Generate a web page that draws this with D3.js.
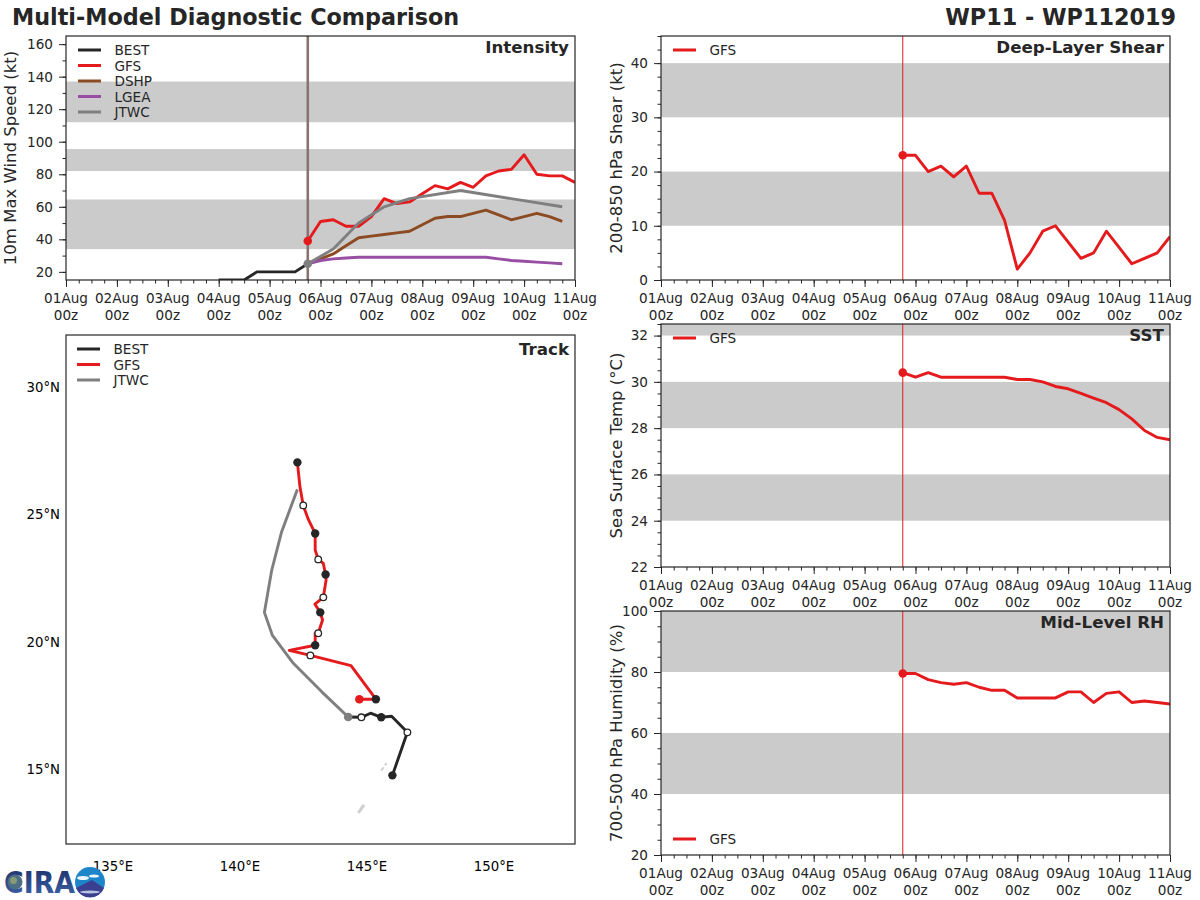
<!DOCTYPE html>
<html>
<head>
<meta charset="utf-8">
<script src="https://cdn.jsdelivr.net/npm/d3@7"></script>
<style>
  body { margin: 0; background: #fff; }
  text { font-family: "DejaVu Sans", sans-serif; fill: #262626; }
</style>
</head>
<body>
<svg id="chart" width="1200" height="900"></svg>
<script>
// values, time is in days after 01Aug 00z
var dayLabels = ["01Aug","02Aug","03Aug","04Aug","05Aug","06Aug","07Aug","08Aug","09Aug","10Aug","11Aug"];
var initDay = 4.75;

var bestDays = [3,3.25,3.5,3.75,4,4.25,4.5,4.75];
var bestWind = [15,15,15,20,20,20,20,25];

var modelDays = [4.75,5,5.25,5.5,5.75,6,6.25,6.5,6.75,7,7.25,7.5,7.75,8,8.25,8.5,8.75,9,9.25,9.5,9.75,10];
var gfsWind = [39,51,52,48,48,54,65,62,63,68,73,71,75,72,79,82,83,92,80,79,79,75];
var dshpWind = [25,28,31,36,41,42,43,44,45,49,53,54,54,56,58,55,52,54,56,54,51];
var lgeaWind = [25,27,28,28.5,29,29,29,29,29,29,29,29,29,29,29,28,27,26.5,26,25.5,25];
var jtwcDays = [4.75,5.25,5.75,6.25,6.75,7.75,9.75];
var jtwcWind = [25,34,50,60,65,70,60];

var gfsShear = [23,23,20,21,19,21,16,16,11,2,5,9,10,7,4,5,9,6,3,4,5,8];
var gfsSst = [30.4,30.2,30.4,30.2,30.2,30.2,30.2,30.2,30.2,30.1,30.1,30,29.8,29.7,29.5,29.3,29.1,28.8,28.4,27.9,27.6,27.5];
var gfsRh = [79.5,79.5,77.5,76.5,76,76.5,75,74,74,71.5,71.5,71.5,71.5,73.5,73.5,70,73,73.5,70,70.5,70,69.5];

var bestLon = [146.0,146.59,145.97,145.56,145.14,144.78,144.26];
var bestLat = [14.75,16.44,17.07,17.03,17.19,17.03,17.04];
var bestDots = [0,1,3,5];

var gfsLon = [144.7,145.35,144.37,142.77,141.94,142.96,142.96,143.08,143.25,143.16,142.95,143.28,143.39,143.37,143.28,143.08,142.96,142.96,142.69,142.49,142.36,142.26];
var gfsLat = [17.74,17.74,19.06,19.46,19.66,19.86,20.33,20.33,20.85,21.15,21.47,21.74,22.42,22.64,23.07,23.23,23.6,24.25,24.8,25.35,26.08,27.04];
var gfsDots = [1,3,5,7,9,11,13,15,17,19,21];

var jtwcLon = [144.26,143.22,142.1,141.27,140.96,141.25,141.64,142.26];
var jtwcLat = [17.04,18.03,19.15,20.26,21.15,22.81,24.32,25.98];

var islandLon = [[145.56,145.65],[145.7,145.78],[144.66,144.88]];
var islandLat = [[14.93,15.07],[15.16,15.22],[13.28,13.59]];

var windBands = [[34,64.5],[82,95.5],[112,137]];
var shearBands = [[10,20],[30,40]];
var sstBands = [[24,26],[28,30],[32,34]];
var rhBands = [[40,60],[80,100]];

var lonTicks = [135,140,145,150];
var latTicks = [15,20,25,30];

var colors = { BEST: "#262626", GFS: "#e41a1c", DSHP: "#8c4b22", LGEA: "#984ea3", JTWC: "#7f7f7f" };
var bandColor = "#cbcbcb";
var lineWide = 2.9;

var svg = d3.select("#chart");

svg.append("text").attr("x", 12).attr("y", 25).attr("font-size", 22.3).attr("font-weight", "bold")
  .text("Multi-Model Diagnostic Comparison");
svg.append("text").attr("x", 1176).attr("y", 25).attr("font-size", 22.3).attr("font-weight", "bold")
  .attr("text-anchor", "end").text("WP11 - WP112019");

function drawLegend(g, x, y, step, names) {
  names.forEach(function (name, i) {
    g.append("line").attr("x1", x).attr("x2", x + 23).attr("y1", y + i * step).attr("y2", y + i * step)
      .attr("stroke", colors[name]).attr("stroke-width", 3);
    g.append("text").attr("x", x + 36.5).attr("y", y + i * step + 5).attr("font-size", 13.6).text(name);
  });
}

function drawTimePanel(opt) {
  var x = d3.scaleLinear().domain([0, 10]).range([opt.left, opt.left + 509]);
  var y = d3.scaleLinear().domain(opt.yDomain).range([opt.bottom, opt.top]);
  var clipId = "clip" + opt.id;

  svg.append("clipPath").attr("id", clipId).append("rect")
    .attr("x", opt.left).attr("y", opt.top).attr("width", 509).attr("height", opt.bottom - opt.top);

  var g = svg.append("g");
  var plot = g.append("g").attr("clip-path", "url(#" + clipId + ")");

  opt.bands.forEach(function (b) {
    plot.append("rect").attr("x", opt.left).attr("width", 509)
      .attr("y", y(b[1])).attr("height", y(b[0]) - y(b[1])).attr("fill", bandColor);
  });

  var xAxis = d3.axisBottom(x).tickValues(d3.range(0, 11)).tickSize(7).tickFormat(function () { return ""; });
  var xMinor = d3.axisBottom(x).tickValues(d3.range(0, 10.01, 0.25)).tickSize(3.5).tickFormat(function () { return ""; });
  var yAxis = d3.axisLeft(y).tickValues(opt.yTicks).tickSize(7).tickPadding(6);
  var yMinor = d3.axisLeft(y).tickValues(opt.yMinor).tickSize(3.5).tickFormat(function () { return ""; });

  [[xAxis, "bottom"], [xMinor, "bottom"]].forEach(function (a) {
    g.append("g").attr("transform", "translate(0," + opt.bottom + ")").call(a[0])
      .call(function (s) { s.select(".domain").remove(); });
  });
  g.append("g").attr("transform", "translate(" + opt.left + ",0)").call(yMinor)
    .call(function (s) { s.select(".domain").remove(); });
  g.append("g").attr("transform", "translate(" + opt.left + ",0)").call(yAxis)
    .call(function (s) {
      s.select(".domain").remove();
      s.selectAll("text").attr("font-size", 13.6).attr("font-family", "DejaVu Sans").attr("fill", "#262626");
    });
  g.selectAll(".tick line").attr("stroke", "#262626");

  dayLabels.forEach(function (label, i) {
    g.append("text").attr("x", x(i)).attr("y", opt.bottom + 23).attr("font-size", 13.6)
      .attr("text-anchor", "middle").text(label);
    g.append("text").attr("x", x(i)).attr("y", opt.bottom + 39.5).attr("font-size", 13.6)
      .attr("text-anchor", "middle").text("00z");
  });

  g.append("text").attr("transform", "translate(" + opt.labelX + "," + (opt.top + opt.bottom) / 2 + ") rotate(-90)")
    .attr("text-anchor", "middle").attr("font-size", 16.5).text(opt.yLabel);

  var line = d3.line().x(function (d) { return x(d[0]); }).y(function (d) { return y(d[1]); });
  opt.series.forEach(function (s) {
    plot.append("path").datum(d3.zip(s.days, s.values)).attr("d", line).attr("fill", "none")
      .attr("stroke", colors[s.name]).attr("stroke-width", lineWide).attr("stroke-linejoin", "round");
  });
  opt.initLines.forEach(function (l) {
    g.append("line").attr("x1", x(initDay)).attr("x2", x(initDay)).attr("y1", opt.top).attr("y2", opt.bottom)
      .attr("stroke", l.color).attr("stroke-width", l.width).attr("opacity", l.opacity);
  });
  opt.dots.forEach(function (d) {
    g.append("circle").attr("cx", x(initDay)).attr("cy", y(d.value)).attr("r", 4.3).attr("fill", d.color);
  });

  g.append("rect").attr("x", opt.left).attr("y", opt.top).attr("width", 509).attr("height", opt.bottom - opt.top)
    .attr("fill", "none").attr("stroke", "#262626").attr("stroke-width", 1.2);
  g.append("text").attr("x", opt.left + 503).attr("y", opt.top + 17).attr("text-anchor", "end")
    .attr("font-size", 16.7).attr("font-weight", "bold").text(opt.title);

  drawLegend(g, opt.left + 12, opt.legendY, 15.5, opt.legend);
}

drawTimePanel({
  id: "wind", left: 66, top: 36, bottom: 280, yDomain: [15, 165],
  yTicks: d3.range(20, 161, 20), yMinor: d3.range(20, 161, 10),
  bands: windBands, yLabel: "10m Max Wind Speed (kt)", labelX: 16, title: "Intensity",
  series: [
    { name: "BEST", days: bestDays, values: bestWind },
    { name: "GFS", days: modelDays, values: gfsWind },
    { name: "DSHP", days: modelDays, values: dshpWind },
    { name: "LGEA", days: modelDays, values: lgeaWind },
    { name: "JTWC", days: jtwcDays, values: jtwcWind }
  ],
  initLines: [{ color: colors.JTWC, width: 2.6, opacity: 1 }, { color: colors.GFS, width: 0.8, opacity: 0.35 }],
  dots: [{ value: 39, color: colors.GFS }, { value: 25, color: colors.JTWC }],
  legend: ["BEST", "GFS", "DSHP", "LGEA", "JTWC"], legendY: 50
});

drawTimePanel({
  id: "shear", left: 661, top: 36, bottom: 280, yDomain: [0, 45],
  yTicks: d3.range(0, 41, 10), yMinor: d3.range(0, 46, 2.5),
  bands: shearBands, yLabel: "200-850 hPa Shear (kt)", labelX: 622, title: "Deep-Layer Shear",
  series: [{ name: "GFS", days: modelDays, values: gfsShear }],
  initLines: [{ color: colors.GFS, width: 1, opacity: 1 }],
  dots: [{ value: 23, color: colors.GFS }],
  legend: ["GFS"], legendY: 50
});

drawTimePanel({
  id: "sst", left: 661, top: 324, bottom: 567, yDomain: [22, 32.5],
  yTicks: d3.range(22, 33, 2), yMinor: d3.range(22, 33, 0.5),
  bands: sstBands, yLabel: "Sea Surface Temp (\u00b0C)", labelX: 622, title: "SST",
  series: [{ name: "GFS", days: modelDays, values: gfsSst }],
  initLines: [{ color: colors.GFS, width: 1, opacity: 1 }],
  dots: [{ value: 30.4, color: colors.GFS }],
  legend: ["GFS"], legendY: 338
});

drawTimePanel({
  id: "rh", left: 661, top: 611, bottom: 855, yDomain: [20, 100],
  yTicks: d3.range(20, 101, 20), yMinor: d3.range(20, 101, 5),
  bands: rhBands, yLabel: "700-500 hPa Humidity (%)", labelX: 622, title: "Mid-Level RH",
  series: [{ name: "GFS", days: modelDays, values: gfsRh }],
  initLines: [{ color: colors.GFS, width: 1, opacity: 1 }],
  dots: [{ value: 79.5, color: colors.GFS }],
  legend: ["GFS"], legendY: 839
});

// track map
var lonScale = d3.scaleLinear().domain([135, 150]).range([113, 494]);
var latScale = d3.scaleLinear().domain([15, 30]).range([769, 387]);
var trackLine = d3.line().x(function (d) { return lonScale(d[0]); }).y(function (d) { return latScale(d[1]); });
var track = svg.append("g");

islandLon.forEach(function (lons, i) {
  track.append("path").datum(d3.zip(lons, islandLat[i])).attr("d", trackLine)
    .attr("fill", "none").attr("stroke", "#cfcfcf").attr("stroke-width", i == 2 ? 3 : 2);
});

[["JTWC", jtwcLon, jtwcLat], ["GFS", gfsLon, gfsLat], ["BEST", bestLon, bestLat]].forEach(function (t) {
  track.append("path").datum(d3.zip(t[1], t[2])).attr("d", trackLine)
    .attr("fill", "none").attr("stroke", colors[t[0]]).attr("stroke-width", lineWide).attr("stroke-linejoin", "round");
});

function drawDots(lons, lats, idx) {
  idx.forEach(function (n, i) {
    var hollow = i % 2 == 1;
    track.append("circle").attr("cx", lonScale(lons[n])).attr("cy", latScale(lats[n]))
      .attr("r", hollow ? 3.3 : 4.2)
      .attr("fill", hollow ? "#fff" : colors.BEST)
      .attr("stroke", colors.BEST).attr("stroke-width", hollow ? 1.3 : 0);
  });
}
drawDots(bestLon, bestLat, bestDots);
drawDots(gfsLon, gfsLat, gfsDots);

track.append("circle").attr("cx", lonScale(gfsLon[0])).attr("cy", latScale(gfsLat[0])).attr("r", 4.3).attr("fill", colors.GFS);
track.append("circle").attr("cx", lonScale(jtwcLon[0])).attr("cy", latScale(jtwcLat[0])).attr("r", 4.3).attr("fill", colors.JTWC);

track.append("rect").attr("x", 66).attr("y", 335).attr("width", 509).attr("height", 509)
  .attr("fill", "none").attr("stroke", "#262626").attr("stroke-width", 1.2);
track.append("text").attr("x", 569).attr("y", 355).attr("text-anchor", "end")
  .attr("font-size", 16.7).attr("font-weight", "bold").text("Track");

drawLegend(track, 77, 349, 15.5, ["BEST", "GFS", "JTWC"]);

// logo, rough version of the two marks in the corner
var logoBlue = svg.append("defs").append("linearGradient").attr("id", "logoBlue").attr("x1", 0).attr("x2", 0).attr("y1", 0).attr("y2", 1);
logoBlue.append("stop").attr("offset", 0).attr("stop-color", "#1b2f66");
logoBlue.append("stop").attr("offset", 1).attr("stop-color", "#3f66ac");

var logo = svg.append("g");
logo.append("text").attr("x", 4).attr("y", 893).attr("font-size", 30).attr("font-family", "Liberation Sans")
  .attr("font-weight", "bold").attr("textLength", 71).attr("lengthAdjust", "spacingAndGlyphs")
  .style("fill", "url(#logoBlue)").text("CIRA");
logo.append("circle").attr("cx", 15).attr("cy", 882).attr("r", 7.5).attr("fill", "#4d6f86");
logo.append("circle").attr("cx", 13.5).attr("cy", 880.5).attr("r", 3.5).attr("fill", "#8a9a78");
logo.append("circle").attr("cx", 90).attr("cy", 882).attr("r", 15).attr("fill", "#1e86c8");
logo.append("path").attr("d", "M76 888 L84 884 L92 880 L98 884 L104 888 A15 15 0 0 1 76 888 Z").attr("fill", "#3b3f8f");
logo.append("ellipse").attr("cx", 90).attr("cy", 892).attr("rx", 10).attr("ry", 1.5).attr("fill", "#b9c4e2");
logo.append("ellipse").attr("cx", 83).attr("cy", 878).attr("rx", 6).attr("ry", 2).attr("fill", "#eef5fa");
logo.append("ellipse").attr("cx", 94).attr("cy", 876).attr("rx", 5).attr("ry", 1.6).attr("fill", "#eef5fa");

lonTicks.forEach(function (d) {
  track.append("text").attr("x", lonScale(d)).attr("y", 871).attr("text-anchor", "middle")
    .attr("font-size", 13.3).style("fill", "#000").text(d + "\u00b0E");
});
latTicks.forEach(function (d) {
  track.append("text").attr("x", 60).attr("y", latScale(d) + 5).attr("text-anchor", "end")
    .attr("font-size", 13.3).style("fill", "#000").text(d + "\u00b0N");
});
</script>
</body>
</html>
